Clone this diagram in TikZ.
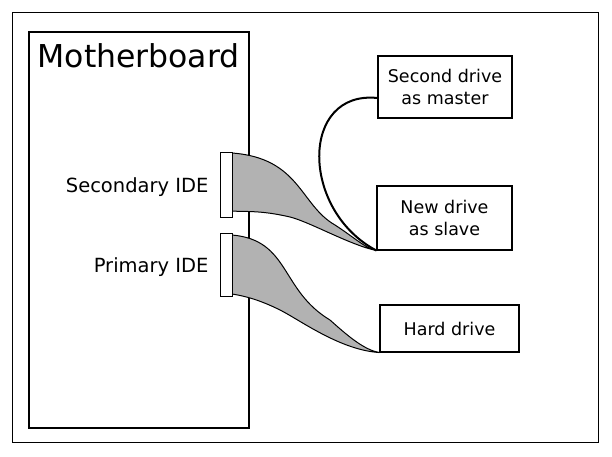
\documentclass[tikz,border=0pt]{standalone}
\usepackage{fontspec}
\setmainfont{DejaVu Sans}
\begin{document}
\begin{tikzpicture}[x=1pt,y=-1pt,line width=1.1pt,
  box/.style={draw,align=center,font=\fontsize{17.5}{22}\selectfont,inner sep=0pt},
  conn/.style={draw,fill=white,line width=1pt},
  cable/.style={fill=gray!60,draw=black,line width=1pt},
  lbl/.style={anchor=east,font=\fontsize{19.5}{23}\selectfont,inner sep=0pt}]
\useasboundingbox (0,0) rectangle (612,456);
\node[draw,minimum width=586,minimum height=430,inner sep=0pt,line width=0.8pt] (frame) at (305,227) {};
\node[draw,minimum width=220,minimum height=396,inner sep=0pt] (mb) at (139,230) {};
\node[anchor=north west,font=\fontsize{31.5}{36}\selectfont,inner sep=0pt] (mbt) at (37,43) {Motherboard};
\node[box,minimum width=134,minimum height=62] (master) at (445,87) {Second drive\\as master};
\node[box,minimum width=135,minimum height=64] (slave) at (444.5,218) {New drive\\as slave};
\node[box,minimum width=139,minimum height=47] (hd) at (449.5,328.5) {Hard drive};
\coordinate (c1) at (slave.south west);
\coordinate (c2) at (hd.south west);
\path[cable] (232,153) .. controls (300,158) and (300,205) .. (335,225) .. controls (355,238) and (365,248) .. (c1)
  .. controls (350,245) and (310,222) .. (290,217) .. controls (260,210) and (245,212) .. (232,211) -- cycle;
\path[cable] (232,235) .. controls (290,240) and (280,290) .. (330,320) .. controls (350,338) and (365,350) .. (c2)
  .. controls (340,350) and (300,320) .. (280,310) .. controls (260,300) and (245,296) .. (232,294) -- cycle;
\draw[line width=2pt] (master.west |- 0,98) .. controls (300,90) and (300,210) .. (c1);
\node[conn,minimum width=12,minimum height=65,inner sep=0pt] (sec) at (226,184.5) {};
\node[conn,minimum width=12,minimum height=63,inner sep=0pt] (pri) at (226,264.5) {};
\node[lbl] (secl) at (209,187) {Secondary IDE};
\node[lbl] (pril) at (209,267) {Primary IDE};
\end{tikzpicture}
\end{document}
